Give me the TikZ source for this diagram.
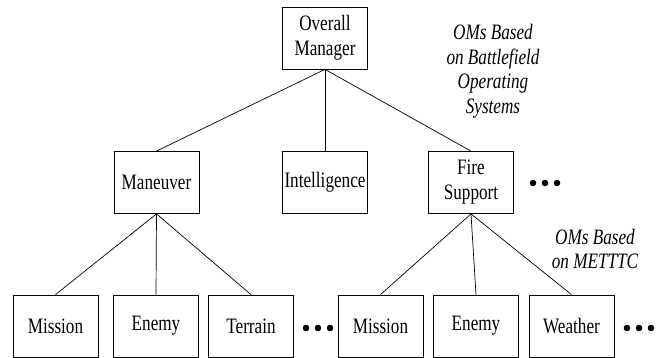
\documentclass[tikz,border=0pt]{standalone}
\usepackage{fontspec}
\setmainfont[FakeStretch=0.78]{Liberation Serif}
\usepackage{tikz}
\usetikzlibrary{positioning,calc}
\tikzset{
  ombox/.style={
    rectangle, draw=black, line width=0.8pt,
    minimum width=85pt, minimum height=62pt, align=center,
    font=\rmfamily\fontsize{22}{25}\selectfont, inner sep=1pt
  },
  omnote/.style={align=center, font=\rmfamily\fontsize{22}{24.5}\selectfont\itshape},
  omline/.style={line width=0.7pt}
}

\begin{document}
\begin{tikzpicture}[x=1pt, y=-1pt]
\useasboundingbox (0,0) rectangle (661,358);

% Top level
\node[ombox] (overall) at (325,38) {Overall\\Manager};

% Battlefield operating systems
\node[ombox] (maneuver) at (156.5,182.5) {Maneuver};
\node[ombox] (intel) at (325,182.5) {Intelligence};
\node[ombox] (fire) at (471,182.5) {Fire\\Support};

% METTTC row
\node[ombox] (mission1) at (55.5,326) {Mission};
\node[ombox] (enemy1) at (156,326) {Enemy};
\node[ombox] (terrain) at (251,326) {Terrain};
\node[ombox] (mission2) at (380.5,326) {Mission};
\node[ombox] (enemy2) at (476,326) {Enemy};
\node[ombox] (weather) at (571.5,326) {Weather};

% Notes
\node[omnote] (bosnote) at (493,71) {OMs Based\\on Battlefield\\Operating\\Systems};
\node[omnote] (mettnote) at (595,249) {OMs Based\\on METTTC};

% More dots
\foreach \cx/\cy in {318/328, 639/328, 545/183}
  \foreach \k in {-1,0,1}
    \fill ($(\cx,\cy)+(12*\k,0)$) circle (3.3pt);

% Lines
\foreach \kid in {maneuver, intel, fire}
  \draw[omline] (overall.south) -- (\kid.north);
\foreach \kid in {mission1, enemy1, terrain}
  \draw[omline] (maneuver.south) -- (\kid.north);
\foreach \kid in {mission2, enemy2, weather}
  \draw[omline] (fire.south) -- (\kid.north);
\end{tikzpicture}
\end{document}
